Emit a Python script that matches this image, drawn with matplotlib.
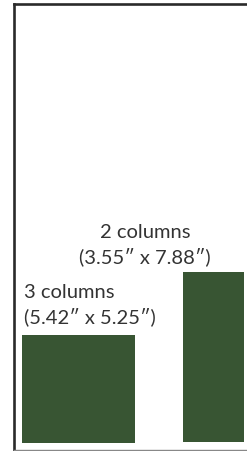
import matplotlib
matplotlib.use('Agg')
import matplotlib.pyplot as plt

# layout options shown in the sketch
labels = ['3 columns\n(5.42\u2033 x 5.25\u2033)', '2 columns\n(3.55\u2033 x 7.88\u2033)']
# rectangle sizes as drawn (in px)
lefts = [8.5, 169.5]
widths = [113, 61]
bottoms = [7, 8]
heights = [108, 170]

label_x = [10.0, 131.5]
label_ha = ['left', 'center']
label_gap = [10, 7]

green = '#385533'
text_color = '#333333'

plt.rcParams['font.family'] = ['Lato', 'DejaVu Sans']

fig = plt.figure(figsize=(2.47, 4.52), dpi=100)
ax = fig.add_axes([13.5 / 247, 1 / 452, 240 / 247, 446 / 452])
ax.set_xlim(0, 240)
ax.set_ylim(0, 446)

ax.bar(lefts, heights, width=widths, bottom=bottoms, align='edge', color=green)

for i in range(len(labels)):
    top = bottoms[i] + heights[i]
    ax.annotate(labels[i], (label_x[i], top), xytext=(0, label_gap[i]),
                textcoords='offset pixels', ha=label_ha[i], va='bottom',
                fontsize=14.5, color=text_color, linespacing=1.4)

ax.set_xticks([])
ax.set_yticks([])
ax.spines['right'].set_visible(False)
ax.spines['left'].set_color('#2a2a2a')
ax.spines['left'].set_linewidth(1.9)
ax.spines['top'].set_color('#2a2a2a')
ax.spines['top'].set_linewidth(1.9)
ax.spines['bottom'].set_color('#888888')
ax.spines['bottom'].set_linewidth(1.0)

fig.savefig('out.png', dpi=100)
